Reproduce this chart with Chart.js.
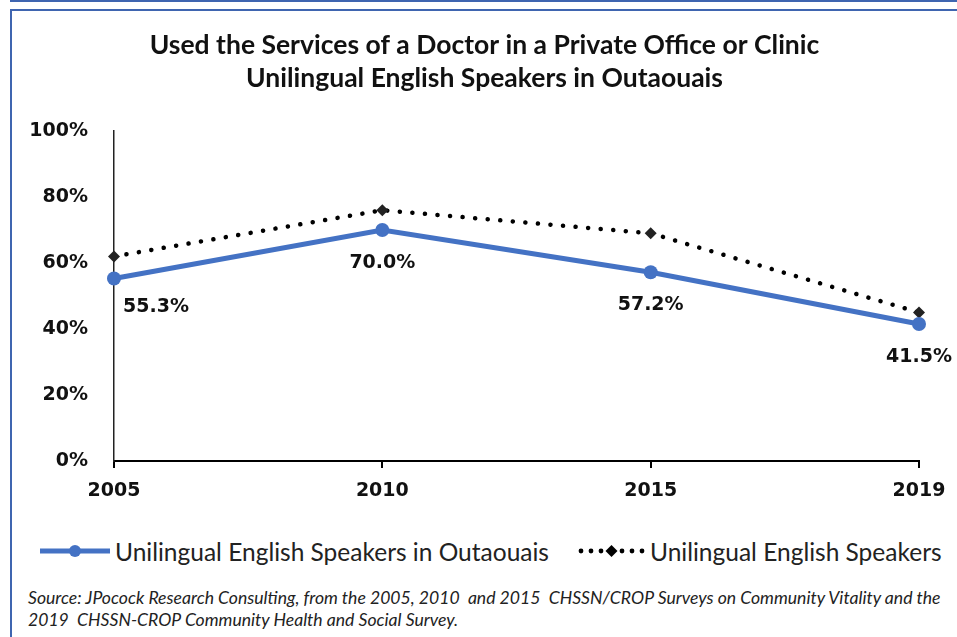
<!DOCTYPE html>
<html>
<head>
<meta charset="utf-8">
<script src="https://cdn.jsdelivr.net/npm/chart.js@4.4.1/dist/chart.umd.min.js"></script>
<style>
  html, body { margin: 0; padding: 0; background: #fff; }
  body { width: 957px; height: 637px; position: relative; overflow: hidden; }
  .rule { position: absolute; background: #3f65b0; }
  #wrap { position: absolute; left: 12px; top: 12px; width: 945px; height: 500px; }
  .legend-item {
    position: absolute; top: 538px; height: 26px;
    display: flex; align-items: center;
    font: 24.5px "Lato", sans-serif; color: #222; white-space: nowrap;
  }
  .legend-item canvas { margin-right: 5px; }
  #source {
    position: absolute; left: 28px; top: 587px;
    font: italic 17.6px "Lato", sans-serif; line-height: 22px; color: #222;
    white-space: pre;
  }
</style>
</head>
<body>
<div class="rule" style="left:10px;top:0;width:947px;height:2px"></div>
<div class="rule" style="left:10px;top:9px;width:947px;height:2px"></div>
<div class="rule" style="left:10px;top:9px;width:2px;height:628px"></div>
<div id="wrap"><canvas id="chart"></canvas></div>
<div class="legend-item" id="leg0" style="left:40px"></div>
<div class="legend-item" id="leg1" style="left:578px"></div>
<div id="source">Source: JPocock Research Consulting, from the 2005, 2010  and 2015  CHSSN/CROP Surveys on Community Vitality and the
2019  CHSSN-CROP Community Health and Social Survey.</div>
<script>
// data
const years = ['2005', '2010', '2015', '2019'];
const outaouais = [55.3, 70.0, 57.2, 41.5];
const allSpeakers = [62, 76, 69, 45];
const yTicks = [0, 20, 40, 60, 80, 100];
const seriesNames = ['Unilingual English Speakers in Outaouais', 'Unilingual English Speakers'];
const titleLines = ['Used the Services of a Doctor in a Private Office or Clinic', 'Unilingual English Speakers in Outaouais'];

const BLUE = '#4472c4';
const tickFont = { family: '"DejaVu Sans"', size: 19, weight: 'bold' };

// little line+marker pictures for the legend
function legendSample(kind) {
  const c = document.createElement('canvas');
  c.width = kind === 0 ? 70 : 67; c.height = 20;
  const g = c.getContext('2d');
  if (kind === 0) {
    g.strokeStyle = BLUE; g.lineWidth = 5;
    g.beginPath(); g.moveTo(0, 10); g.lineTo(70, 10); g.stroke();
    g.fillStyle = BLUE;
    g.beginPath(); g.arc(35, 10, 6, 0, Math.PI * 2); g.fill();
  } else {
    g.fillStyle = '#000';
    [3, 13, 23, 44, 54, 64].forEach(x => { g.beginPath(); g.arc(x, 10, 2.4, 0, Math.PI * 2); g.fill(); });
    g.beginPath(); g.moveTo(33.5, 4); g.lineTo(39.5, 10); g.lineTo(33.5, 16); g.lineTo(27.5, 10); g.closePath(); g.fill();
  }
  return c;
}

seriesNames.forEach((name, i) => {
  const item = document.getElementById('leg' + i);
  item.appendChild(legendSample(i));
  item.appendChild(document.createTextNode(name));
});

// value labels under the blue series
const pointLabels = {
  id: 'pointLabels',
  afterDatasetsDraw(chart) {
    const ctx = chart.ctx;
    const meta = chart.getDatasetMeta(0);
    ctx.save();
    ctx.font = 'bold 19px "DejaVu Sans"';
    ctx.fillStyle = '#111';
    ctx.textBaseline = 'middle';
    ctx.textAlign = 'left';
    meta.data.forEach((pt, i) => {
      const txt = outaouais[i].toFixed(1) + '%';
      const w = ctx.measureText(txt).width;
      let x = pt.x - w / 2;
      // first label would sit on the axis, so push it right like the original
      if (x < chart.chartArea.left) x = pt.x + 9;
      ctx.fillText(txt, x, pt.y + (i === 0 ? 29 : 33));
    });
    ctx.restore();
  }
};

new Chart(document.getElementById('chart'), {
  type: 'line',
  data: {
    labels: years,
    datasets: [
      {
        label: seriesNames[0],
        data: outaouais,
        borderColor: BLUE,
        backgroundColor: BLUE,
        borderWidth: 5,
        pointRadius: 7,
        pointHoverRadius: 7,
        pointBorderWidth: 0,
        tension: 0
      },
      {
        label: seriesNames[1],
        data: allSpeakers,
        borderColor: '#000',
        backgroundColor: '#222',
        borderWidth: 4.5,
        borderDash: [0.1, 12.5],
        borderCapStyle: 'round',
        pointStyle: 'rectRot',
        pointRadius: 6,
        pointBorderWidth: 0,
        tension: 0
      }
    ]
  },
  options: {
    responsive: true,
    maintainAspectRatio: false,
    animation: false,
    layout: { padding: 0 },
    plugins: {
      title: {
        display: true,
        text: titleLines,
        color: '#111',
        font: { family: 'Lato', size: 26.5, weight: 'bold', lineHeight: 1.245 },
        padding: { top: 16.5, bottom: 36.5 }
      },
      legend: { display: false },
      tooltip: { enabled: false }
    },
    scales: {
      x: {
        type: 'category',
        offset: false,
        grid: { drawOnChartArea: false, drawTicks: true, tickLength: 7, color: '#000', lineWidth: 2 },
        border: { display: true, color: '#000', width: 2 },
        ticks: { font: tickFont, color: '#111', padding: 12, maxRotation: 0 },
        afterFit: s => { s.height = 51; s.paddingRight = 38; }
      },
      y: {
        min: 0,
        max: 100,
        grid: { display: false },
        border: { display: true, color: '#222', width: 1.5 },
        ticks: {
          font: tickFont,
          color: '#111',
          padding: 18,
          stepSize: 20,
          callback: v => yTicks.includes(v) ? v + '%' : ''
        },
        afterFit: s => { s.width = 102; }
      }
    }
  },
  plugins: [pointLabels]
});
</script>
</body>
</html>
